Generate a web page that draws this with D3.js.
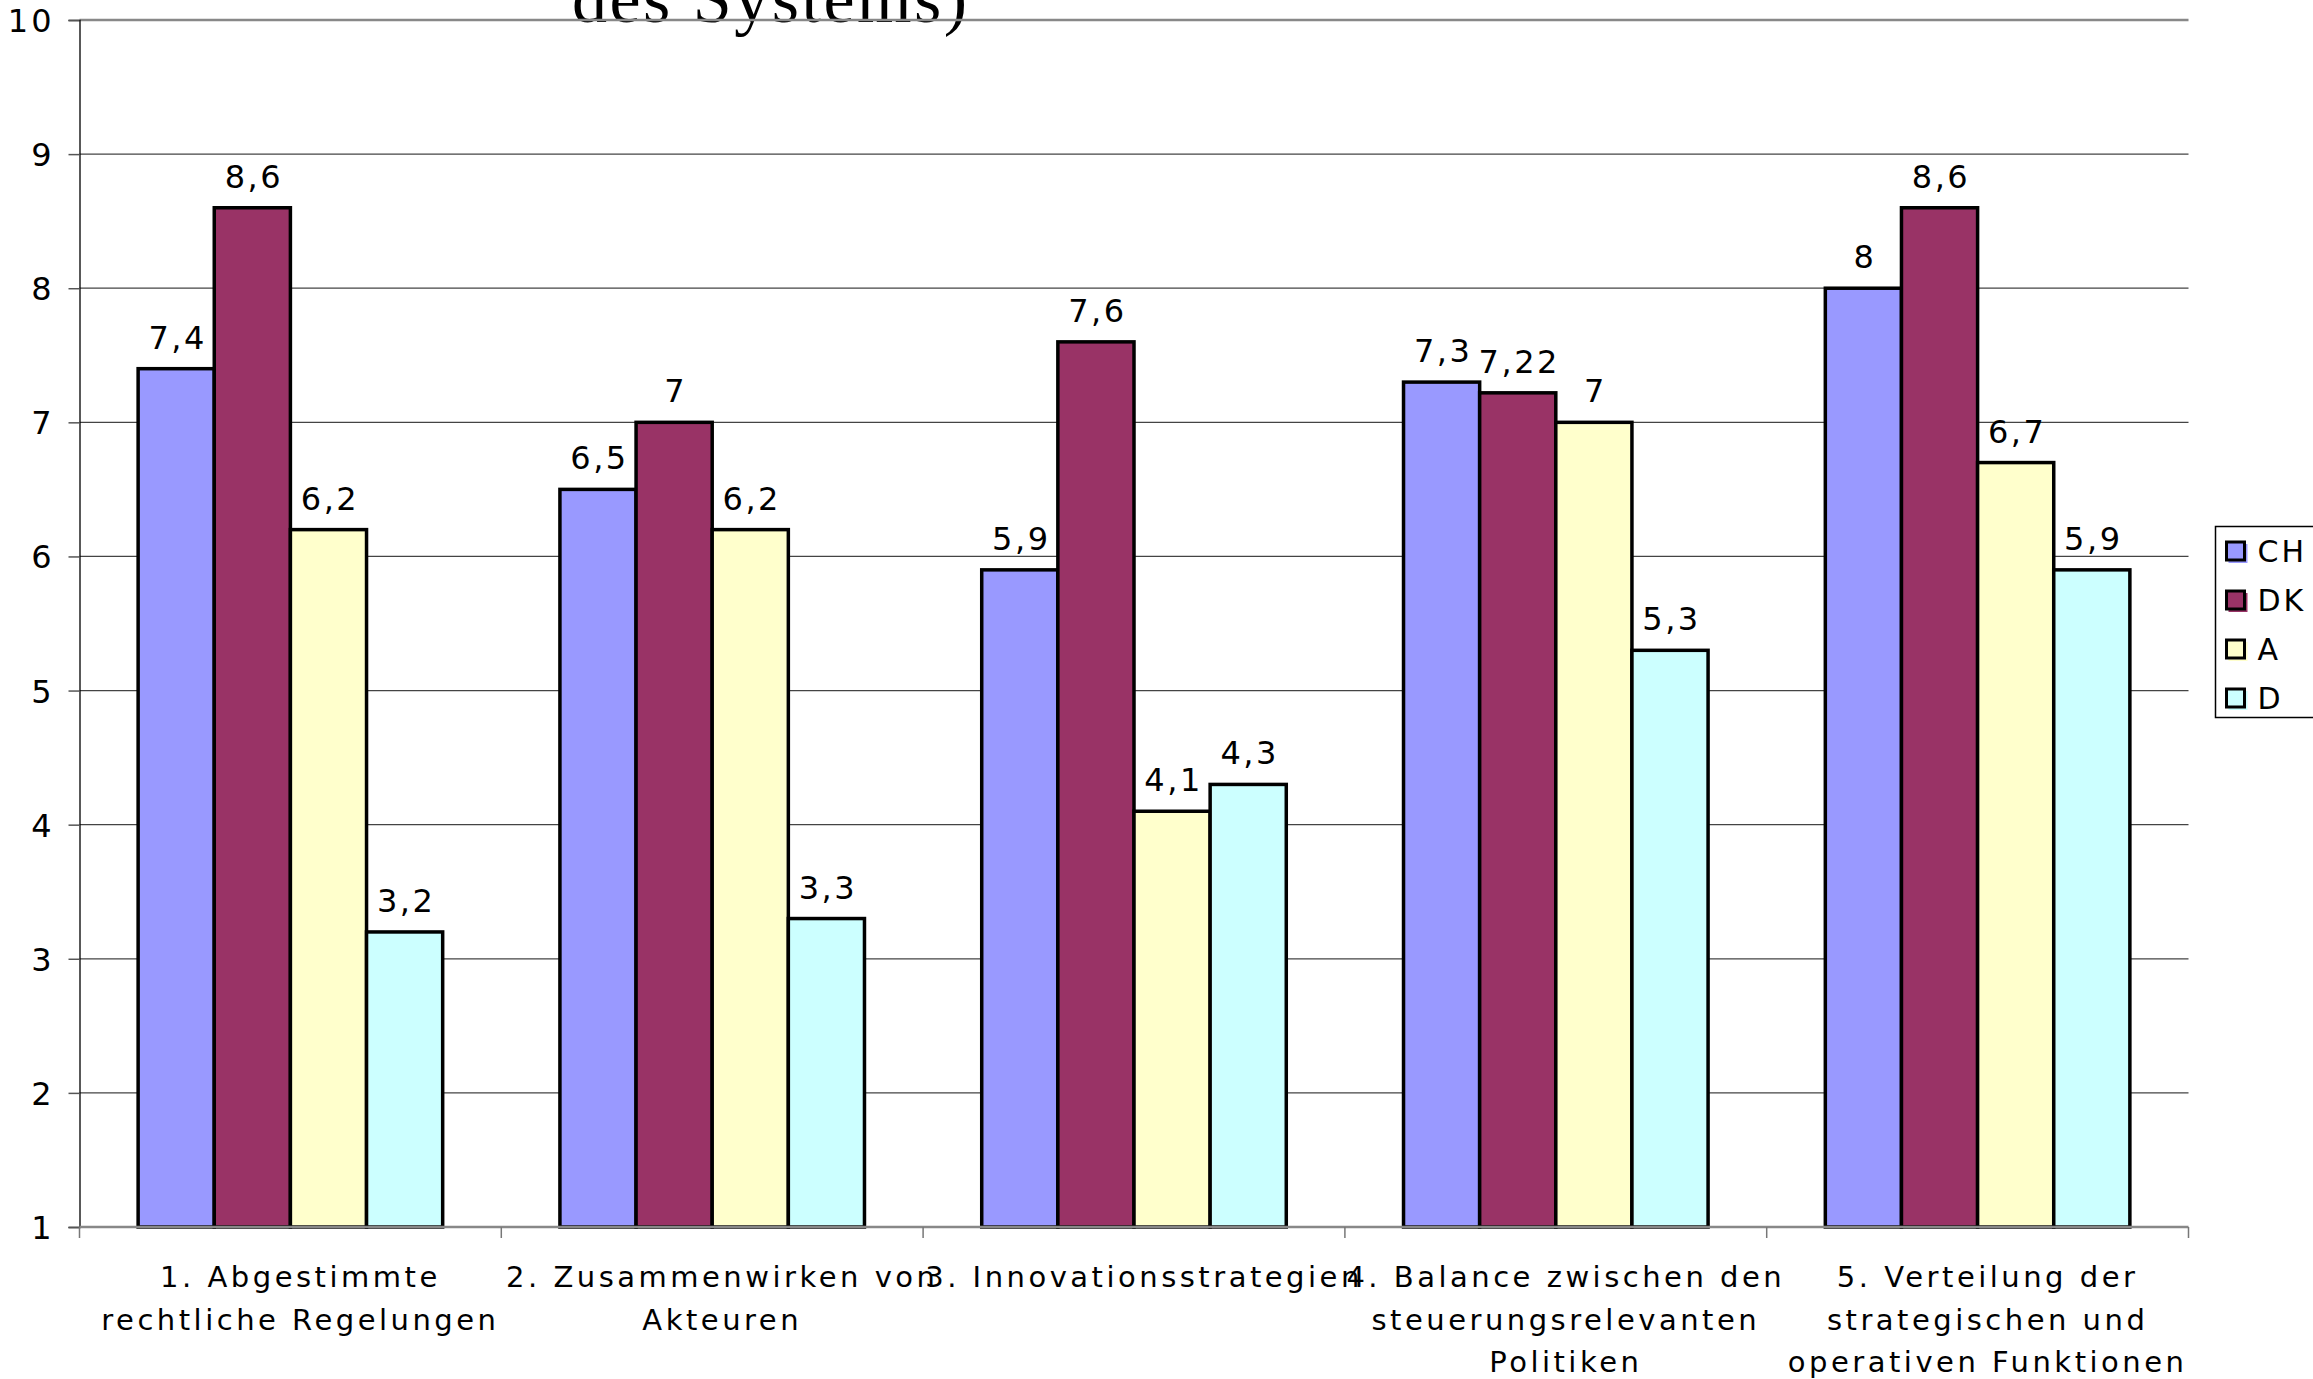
<!DOCTYPE html>
<html>
<head>
<meta charset="utf-8">
<script src="https://cdn.jsdelivr.net/npm/d3@7"></script>
<style>
  body { margin: 0; background: #fff; }
  svg { display: block; }
  text { font-family: "DejaVu Sans", Verdana, sans-serif; fill: #000; }
</style>
</head>
<body>
<svg id="chart"></svg>
<script>
// chart data
var categories = [
    "1. Abgestimmte rechtliche Regelungen",
    "2. Zusammenwirken von Akteuren",
    "3. Innovationsstrategien",
    "4. Balance zwischen den steuerungsrelevanten Politiken",
    "5. Verteilung der strategischen und operativen Funktionen"
]
var categoryLines = [
    ["1. Abgestimmte", "rechtliche Regelungen"],
    ["2. Zusammenwirken von", "Akteuren"],
    ["3. Innovationsstrategien"],
    ["4. Balance zwischen den", "steuerungsrelevanten", "Politiken"],
    ["5. Verteilung der", "strategischen und", "operativen Funktionen"]
]
var seriesNames = ["CH", "DK", "A", "D"]
var valuesCH = [7.4, 6.5, 5.9, 7.3, 8]
var valuesDK = [8.6, 7, 7.6, 7.22, 8.6]
var valuesA = [6.2, 6.2, 4.1, 7, 6.7]
var valuesD = [3.2, 3.3, 4.3, 5.3, 5.9]
var yTicks = [1, 2, 3, 4, 5, 6, 7, 8, 9, 10]
var titleTail = "des Systems)"

var seriesColors = {
    CH: "#9999ff",
    DK: "#993366",
    A: "#ffffcc",
    D: "#ccffff"
}

var W = 2313, H = 1379
var svg = d3.select("#chart").attr("width", W).attr("height", H)
svg.append("rect").attr("width", W).attr("height", H).attr("fill", "#fff")

var margin = {top: 20, left: 79.5, right: 2188.5, bottom: 1227}

var x0 = d3.scaleBand().domain(categories).range([margin.left, margin.right]).padding(0)
var x1 = d3.scaleBand().domain(seriesNames).range([0, x0.bandwidth()]).paddingInner(0).paddingOuter(0.77)
var y = d3.scaleLinear().domain([1, 10]).range([margin.bottom, margin.top])

var table = seriesNames.map(function(s){
    var vals = {CH: valuesCH, DK: valuesDK, A: valuesA, D: valuesD}[s]
    return vals.map(function(v, i){ return {series: s, cat: categories[i], value: v} })
})

// title remainder, clipped at the top of the picture (as in the original)
svg.append("text")
    .attr("x", 572).attr("y", 22)
    .attr("textLength", 395)
    .style("font-family", "'Liberation Serif', 'Times New Roman', serif")
    .style("font-size", "70px")
    .text(titleTail)

// gridlines
svg.append("g").selectAll("line")
    .data(yTicks.filter(function(t){ return t > 1 }))
    .enter().append("line")
    .attr("x1", margin.left).attr("x2", margin.right)
    .attr("y1", function(d){ return y(d) }).attr("y2", function(d){ return y(d) })
    .attr("stroke", function(d){ return d == 10 ? "#888" : "#444" })
    .attr("stroke-width", function(d){ return d == 10 ? 2.5 : 1.3 })

// y axis
var yAxis = d3.axisLeft(y).tickValues(yTicks).tickSize(11).tickFormat(d3.format("d"))
var gy = svg.append("g").attr("transform", "translate(" + margin.left + ",0)").call(yAxis)
gy.select(".domain").attr("stroke", "#000").attr("stroke-width", 1.3)
gy.selectAll(".tick line").attr("stroke", "#555").attr("stroke-width", 1.5)
gy.selectAll(".tick text")
    .attr("x", -25)
    .attr("dy", "0.36em")
    .style("font-size", "32px")
    .style("letter-spacing", "3px")
    .style("font-family", "'DejaVu Sans', sans-serif")
    .attr("fill", "#000")

// bars
var groups = svg.append("g").selectAll("g")
    .data(table).enter().append("g")

groups.selectAll("rect")
    .data(function(d){ return d }).enter().append("rect")
    .attr("x", function(d){ return x0(d.cat) + x1(d.series) })
    .attr("y", function(d){ return y(d.value) })
    .attr("width", x1.bandwidth())
    .attr("height", function(d){ return y(1) - y(d.value) })
    .attr("fill", function(d){ return seriesColors[d.series] })
    .attr("stroke", "#000")
    .attr("stroke-width", 3.5)

// x axis line and category ticks
svg.append("line")
    .attr("x1", margin.left).attr("x2", margin.right)
    .attr("y1", y(1)).attr("y2", y(1))
    .attr("stroke", "#888").attr("stroke-width", 2.5)

svg.append("g").selectAll("line")
    .data(categories.concat(["end"]))
    .enter().append("line")
    .attr("x1", function(d, i){ return i < categories.length ? x0(d) : margin.right })
    .attr("x2", function(d, i){ return i < categories.length ? x0(d) : margin.right })
    .attr("y1", y(1)).attr("y2", y(1) + 11)
    .attr("stroke", "#777").attr("stroke-width", 1.5)

// value labels
var fmt = function(v){ return String(v).replace(".", ",") }
groups.selectAll("text.val")
    .data(function(d){ return d }).enter().append("text")
    .attr("class", "val")
    .attr("x", function(d){ return x0(d.cat) + x1(d.series) + x1.bandwidth() / 2 + 1.5 })
    .attr("y", function(d){ return y(d.value) - 20 })
    .attr("text-anchor", "middle")
    .style("font-size", "32px")
    .style("letter-spacing", "2.5px")
    .text(function(d){ return fmt(d.value) })

// category labels
var catLabels = svg.append("g").selectAll("text")
    .data(categories).enter().append("text")
    .attr("text-anchor", "middle")
    .style("font-size", "29px")
    .style("letter-spacing", "3.5px")
    .attr("transform", function(d){ return "translate(" + (x0(d) + x0.bandwidth() / 2 + 10) + ",1287)" })

catLabels.selectAll("tspan")
    .data(function(d, i){ return categoryLines[i] }).enter().append("tspan")
    .attr("x", 0)
    .attr("y", function(d, i){ return i * 42.7 })
    .text(function(d){ return d })

// legend
var legend = svg.append("g").attr("transform", "translate(2215.5,526.5)")
legend.append("rect")
    .attr("width", 110).attr("height", 191)
    .attr("fill", "#fff").attr("stroke", "#000").attr("stroke-width", 1.5)

var item = legend.selectAll("g.item")
    .data(seriesNames).enter().append("g")
    .attr("class", "item")
    .attr("transform", function(d, i){ return "translate(0," + (24.5 + i * 49) + ")" })

item.append("rect")
    .attr("x", 13).attr("y", -7)
    .attr("width", 19).attr("height", 19)
    .attr("fill", function(d){ return seriesColors[d] })
item.append("rect")
    .attr("x", 11).attr("y", -9)
    .attr("width", 18).attr("height", 18)
    .attr("fill", function(d){ return seriesColors[d] })
    .attr("stroke", "#000").attr("stroke-width", 3)
item.append("text")
    .attr("x", 42).attr("y", 0)
    .attr("dy", "0.36em")
    .style("font-size", "30px")
    .style("letter-spacing", "3px")
    .text(function(d){ return d })
</script>
</body>
</html>
